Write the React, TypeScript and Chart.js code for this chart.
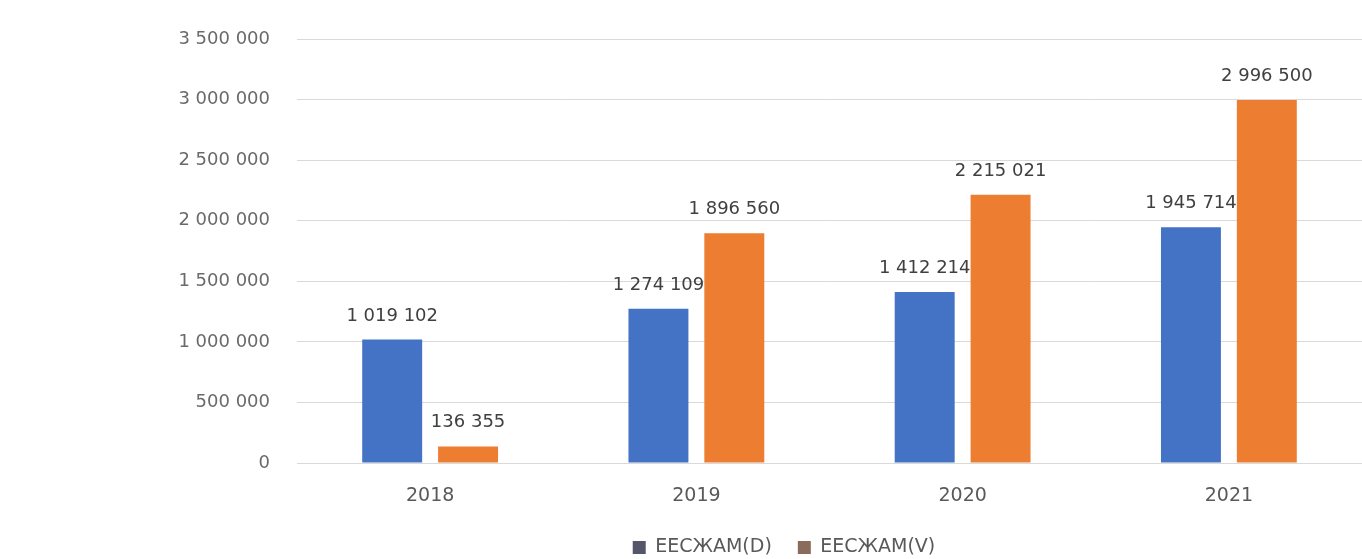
import React, { useEffect, useRef } from "react";
import { Chart, registerables } from "chart.js";

Chart.register(...registerables);

const categories = ["2018", "2019", "2020", "2021"];
const seriesD = [1019102, 1274109, 1412214, 1945714];
const seriesV = [136355, 1896560, 2215021, 2996500];
const seriesNames = ["ЕЕСЖАМ(D)", "ЕЕСЖАМ(V)"];
const yMax = 3500000;
const yStep = 500000;

const fmt = (v: number) =>
  Math.round(v)
    .toString()
    .replace(/\B(?=(\d{3})+(?!\d))/g, " ");

const FONT = "'DejaVu Sans', sans-serif";

const barLabels = {
  id: "barLabels",
  afterDatasetsDraw(chart: any) {
    const ctx = chart.ctx;
    ctx.save();
    ctx.font = `18px ${FONT}`;
    ctx.fillStyle = "#404040";
    ctx.textAlign = "center";
    ctx.textBaseline = "alphabetic";
    chart.data.datasets.forEach((ds: any, i: number) => {
      const meta = chart.getDatasetMeta(i);
      meta.data.forEach((bar: any, j: number) => {
        ctx.fillText(fmt(ds.data[j]), bar.x, bar.y - 19);
      });
    });
    ctx.restore();
  },
};

const legendShift = {
  id: "legendShift",
  afterLayout(chart: any) {
    const lg = chart.legend;
    if (lg) {
      lg.left += 103;
      lg.right += 103;
    }
  },
};

export default function App() {
  const ref = useRef<HTMLCanvasElement | null>(null);
  useEffect(() => {
    if (!ref.current) return;
    const legendColors = ["#56566b", "#8b6b5b"];
    const chart = new Chart(ref.current, {
      type: "bar",
      data: {
        labels: categories,
        datasets: [
          {
            label: seriesNames[0],
            data: seriesD,
            backgroundColor: "#4472C4",
            categoryPercentage: 0.57,
            barPercentage: 0.79,
          },
          {
            label: seriesNames[1],
            data: seriesV,
            backgroundColor: "#ED7D31",
            categoryPercentage: 0.57,
            barPercentage: 0.79,
          },
        ],
      },
      options: {
        animation: false,
        responsive: true,
        maintainAspectRatio: false,
        layout: { padding: { top: 39, left: 0, right: 0, bottom: -8 } },
        plugins: {
          tooltip: { enabled: false },
          legend: {
            position: "bottom",
            labels: {
              font: { family: FONT, size: 19 },
              color: "#595959",
              boxWidth: 13,
              boxHeight: 13,
              padding: 26,
              generateLabels: (c: any) =>
                c.data.datasets.map((ds: any, i: number) => ({
                  text: ds.label,
                  fillStyle: legendColors[i],
                  strokeStyle: legendColors[i],
                  lineWidth: 0,
                  fontColor: "#595959",
                  datasetIndex: i,
                  hidden: false,
                })),
            },
          },
        },
        scales: {
          x: {
            grid: { display: false, drawTicks: false },
            border: { display: true, color: "#d9d9d9" },
            ticks: {
              color: "#595959",
              font: { family: FONT, size: 19 },
              padding: 22,
            },
            afterFit: (scale: any) => {
              scale.height = 49;
            },
          },
          y: {
            min: 0,
            max: yMax,
            border: { display: false },
            grid: { color: "#d9d9d9", drawTicks: false, lineWidth: 1 },
            ticks: {
              stepSize: yStep,
              color: "#6a6a6a",
              font: { family: FONT, size: 18 },
              padding: 27,
              callback: (v: any) => fmt(Number(v)),
            },
            afterFit: (scale: any) => {
              scale.width = 297;
            },
          },
        },
      },
      plugins: [barLabels, legendShift],
    });
    return () => chart.destroy();
  }, []);
  return (
    <div
      style={{
        position: "fixed",
        left: 0,
        top: 0,
        width: 1362,
        height: 559,
        background: "#ffffff",
      }}
    >
      <canvas ref={ref} />
    </div>
  );
}
